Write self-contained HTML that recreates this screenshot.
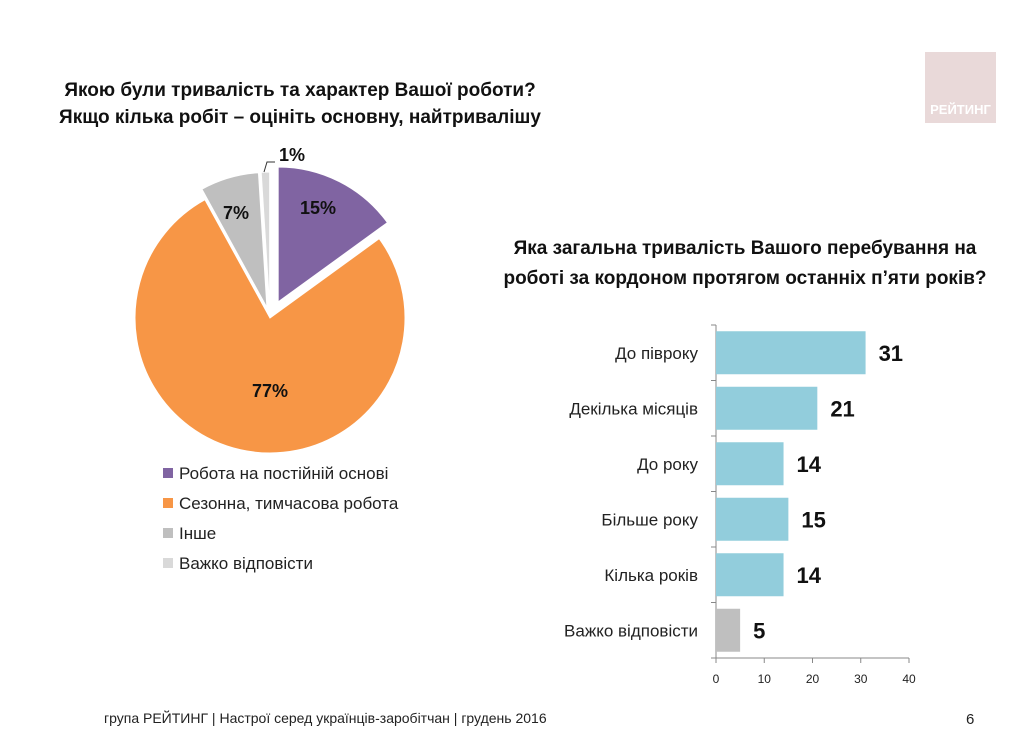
<!DOCTYPE html>
<html><head><meta charset="utf-8"><style>
body{margin:0;width:1024px;height:732px;background:#fff;overflow:hidden;font-family:"Liberation Sans",sans-serif;position:relative}
.t{position:absolute;font-weight:bold;color:#111;text-align:center}
</style></head><body>
<div style="position:absolute;left:925px;top:52px;width:71px;height:71px;background:#e9d9d9;">
<div style="position:absolute;bottom:6px;width:100%;text-align:center;color:#fff;font-weight:bold;font-size:13px;">РЕЙТИНГ</div></div>
<div class="t" style="left:20px;top:77px;width:560px;font-size:19px;line-height:27px;">Якою були тривалість та характер Вашої роботи?<br>Якщо кілька робіт – оцініть основну, найтривалішу</div>
<div class="t" style="left:465px;top:234px;width:560px;font-size:19px;line-height:30px;">Яка загальна тривалість Вашого перебування на<br>роботі за кордоном протягом останніх п’яти років?</div>
<svg id="s" width="1024" height="732" style="position:absolute;left:0;top:0" font-family="Liberation Sans, sans-serif"></svg>
<div style="position:absolute;left:104px;top:710px;font-size:14px;color:#222;">група РЕЙТИНГ |  Настрої серед українців-заробітчан  |  грудень 2016</div>
<div style="position:absolute;left:966px;top:711px;font-size:15px;color:#222;">6</div>
<script>
const pieLabels=["Робота на постійній основі","Сезонна, тимчасова робота","Інше","Важко відповісти"];
const pieValues=[15,77,7,1];
const pieColors=["#8064a2","#f79646","#bfbfbf","#d9d9d9"];
const barCats=["До півроку","Декілька місяців","До року","Більше року","Кілька років","Важко відповісти"];
const barValues=[31,21,14,15,14,5];
const barColors=["#92cddc","#92cddc","#92cddc","#92cddc","#92cddc","#bfbfbf"];
const xTicks=[0,10,20,30,40];
const NS="http://www.w3.org/2000/svg",s=document.getElementById('s');
function mk(t,a,txt){const e=document.createElementNS(NS,t);for(const k in a)e.setAttribute(k,a[k]);if(txt!=null)e.textContent=txt;s.appendChild(e);return e;}
const cx=270,cy=318,r=135,tot=pieValues.reduce((a,b)=>a+b,0);
const explode=[18,0,11,11];
let ang=0;
pieValues.forEach((v,i)=>{
 const a0=ang,a1=ang+v/tot*2*Math.PI;ang=a1;const m=(a0+a1)/2;
 const ox=cx+explode[i]*Math.sin(m),oy=cy-explode[i]*Math.cos(m);
 const p=(a)=>[ox+r*Math.sin(a),oy-r*Math.cos(a)];
 const [x0,y0]=p(a0),[x1,y1]=p(a1);
 const e=mk('path',{d:`M${ox},${oy}L${x0},${y0}A${r},${r} 0 ${a1-a0>Math.PI?1:0} 1 ${x1},${y1}Z`,fill:pieColors[i],stroke:'#fff','stroke-width':1});
 
 
 let lr=r*0.62,lx=ox+lr*Math.sin(m),ly=oy-lr*Math.cos(m);
 if(i===3){lx=292;ly=155;mk('path',{d:'M264,172 L267,162 L275,162',fill:'none',stroke:'#333','stroke-width':1});}
 if(i===2){lx=236;ly=213;}
 if(i===0){lx=318;ly=208;}
 if(i===1){lx=270;ly=391;}
 const t=mk('text',{x:lx,y:ly+6,'text-anchor':'middle','font-size':18,'font-weight':'bold',fill:'#111'},v+'%');
 
 
});
pieLabels.forEach((l,i)=>{
 const y=474+i*30;
 const q=mk('rect',{x:163,y:y-6,width:10,height:10,fill:pieColors[i]});
 
 
 const t=mk('text',{x:179,y:y+5,'font-size':17,fill:'#222'},l);
 
 
});
const x0=716,x1=909,yTop=325,yBot=658,max=40;
const X=v=>x0+(v/max)*(x1-x0);
const band=(yBot-yTop)/barCats.length;
mk('line',{x1:x0,y1:yTop,x2:x0,y2:yBot,stroke:'#888'});
mk('line',{x1:x0,y1:yBot,x2:x1,y2:yBot,stroke:'#888'});
for(let i=0;i<=barCats.length;i++)mk('line',{x1:x0-5,y1:yTop+i*band,x2:x0,y2:yTop+i*band,stroke:'#888'});
xTicks.forEach(v=>{mk('line',{x1:X(v),y1:yBot,x2:X(v),y2:yBot+5,stroke:'#888'});
 const t=mk('text',{x:X(v),y:yBot+25,'text-anchor':'middle','font-size':12,fill:'#222'},v);
 
 });
barCats.forEach((c,i)=>{
 const yc=yTop+band*(i+0.5);
 const b=mk('rect',{x:x0,y:yc-21.5,width:X(barValues[i])-x0,height:43,fill:barColors[i]});
 
 
 const l=mk('text',{x:698,y:yc+6,'text-anchor':'end','font-size':17,fill:'#222'},c);
 
 
 const v=mk('text',{x:X(barValues[i])+13,y:yc+8,'font-size':22,'font-weight':'bold',fill:'#111'},barValues[i]);
 
 
});
</script>
</body></html>
